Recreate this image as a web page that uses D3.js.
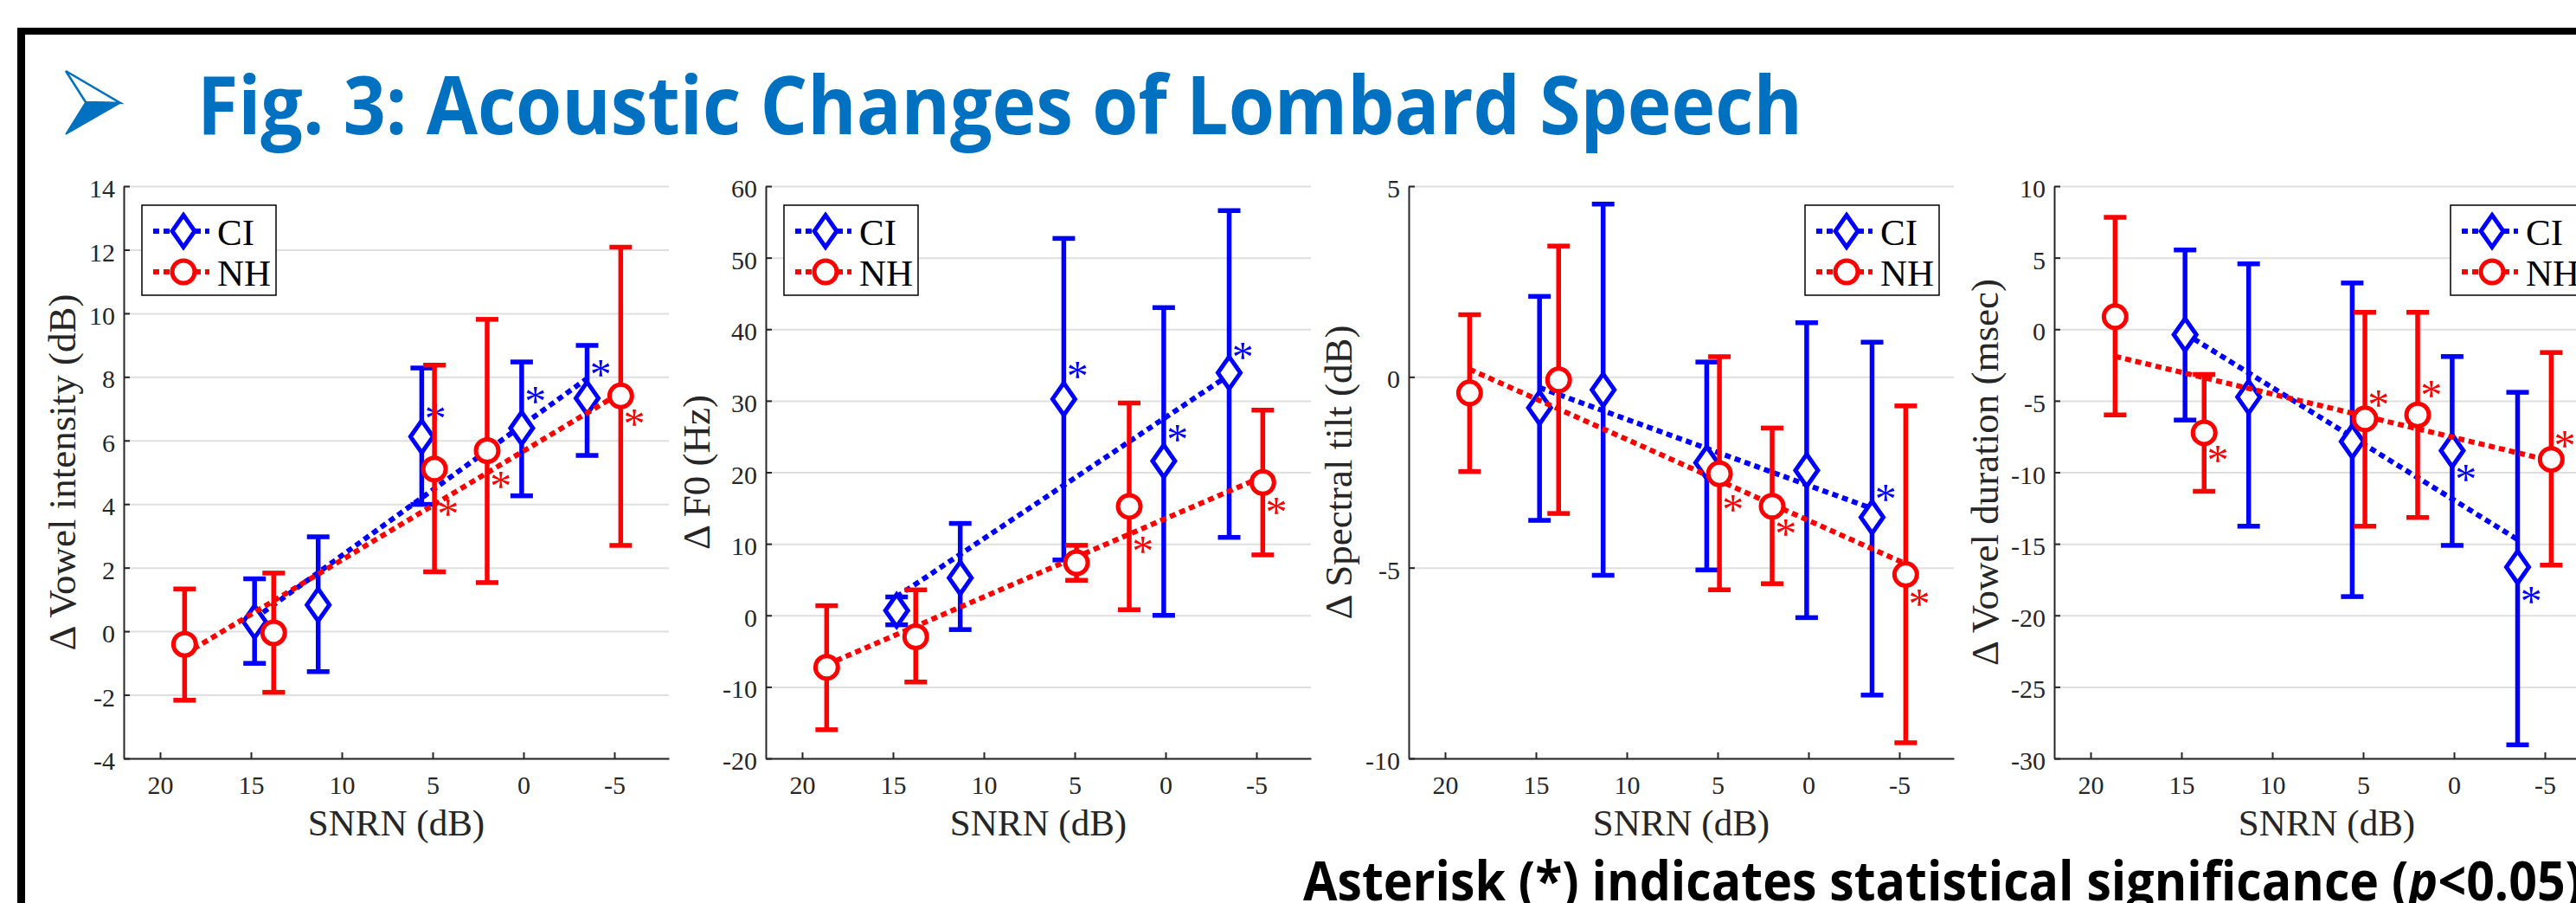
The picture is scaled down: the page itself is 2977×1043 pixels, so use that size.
<!DOCTYPE html>
<html>
<head>
<meta charset="utf-8">
<script src="https://cdn.jsdelivr.net/npm/d3@7/dist/d3.min.js"></script>
<style>
  body { margin: 0; background: #fff; }
  svg { display: block; }
</style>
</head>
<body>
<div id="chart"></div>
<script>

// SNRN (dB) where each group was measured
var snrCI = [14.8, 11.3, 5.6, 0.1, -3.5];
var snrNH = [18.65, 13.75, 4.9, 2.0, -5.35];
var snrTicks = [20, 15, 10, 5, 0, -5];
var groupNames = ["CI", "NH"];

// Vowel intensity (dB)
var intTicks = [-4, -2, 0, 2, 4, 6, 8, 10, 12, 14];
var intCI   = [0.30, 0.83, 6.12, 6.39, 7.33];
var intCIUp = [1.65, 2.97, 8.28, 8.47, 8.99];
var intCILo = [-1.01, -1.27, 3.99, 4.26, 5.53];
var intNH   = [-0.41, -0.05, 5.10, 5.68, 7.40];
var intNHUp = [1.33, 1.83, 8.37, 9.81, 12.08];
var intNHLo = [-2.17, -1.92, 1.87, 1.53, 2.70];
var intCIFit = [0.40, 7.95];
var intNHFit = [-0.72, 7.50];
var intCIStar = [null, null, 6.90, 7.45, 8.28];
var intNHStar = [null, null, 3.90, 4.78, 6.74];

// F0 (Hz)
var f0Ticks = [-20, -10, 0, 10, 20, 30, 40, 50, 60];
var f0CI   = [0.67, 5.23, 30.24, 21.57, 33.91];
var f0CIUp = [2.57, 12.85, 52.69, 43.02, 56.58];
var f0CILo = [-1.32, -1.99, 7.74, 0.0, 10.9];
var f0NH   = [-7.27, -3.0, 7.35, 15.23, 18.57];
var f0NHUp = [1.35, 3.56, 9.79, 29.68, 28.69];
var f0NHLo = [-15.99, -9.32, 4.9, 0.79, 8.45];
var f0CIFit = [2.6, 33.6];
var f0NHFit = [-6.9, 19.4];
var f0CIStar = [null, null, 34.4, 25.5, 37.0];
var f0NHStar = [null, null, null, 9.95, 15.35];

// Spectral tilt (dB)
var tiltTicks = [-10, -5, 0, 5];
var tiltCI   = [-0.81, -0.34, -2.25, -2.45, -3.68];
var tiltCIUp = [2.11, 4.53, 0.39, 1.42, 0.91];
var tiltCILo = [-3.76, -5.2, -5.06, -6.31, -8.34];
var tiltNH   = [-0.42, -0.08, -2.54, -3.39, -5.18];
var tiltNHUp = [1.63, 3.43, 0.53, -1.34, -0.76];
var tiltNHLo = [-2.48, -3.58, -5.58, -5.42, -9.59];
var tiltCIFit = [-0.28, -3.45];
var tiltNHFit = [0.2, -4.9];
var tiltCIStar = [null, null, null, null, -3.03];
var tiltNHStar = [null, null, -3.31, -3.93, -5.79];

// Vowel duration (msec)
var durTicks = [-30, -25, -20, -15, -10, -5, 0, 5, 10];
var durCI   = [-0.38, -4.74, -7.85, -8.49, -16.63];
var durCIUp = [5.54, 4.57, 3.23, -1.91, -4.41];
var durCILo = [-6.35, -13.77, -18.69, -15.11, -29.05];
var durNH   = [0.87, -7.24, -6.27, -5.99, -9.1];
var durNHUp = [7.82, -3.16, 1.18, 1.18, -1.63];
var durNHLo = [-5.99, -11.33, -13.77, -13.16, -16.49];
var durCIFit = [-0.3, -14.7];
var durNHFit = [-1.9, -9.2];
var durCIStar = [null, null, null, -10.02, -18.55];
var durNHStar = [null, -8.69, -4.83, -4.18, -7.66];

var panels = [
  {label: "\u0394 Vowel intensity (dB)", ticks: intTicks, left: 143, labelGap: 56, legend: "left",
   ci: [intCI, intCIUp, intCILo, intCIFit, intCIStar], nh: [intNH, intNHUp, intNHLo, intNHFit, intNHStar]},
  {label: "\u0394 F0 (Hz)", ticks: f0Ticks, left: 885, labelGap: 65, legend: "left",
   ci: [f0CI, f0CIUp, f0CILo, f0CIFit, f0CIStar], nh: [f0NH, f0NHUp, f0NHLo, f0NHFit, f0NHStar]},
  {label: "\u0394 Spectral tilt (dB)", ticks: tiltTicks, left: 1628, labelGap: 66, legend: "right",
   ci: [tiltCI, tiltCIUp, tiltCILo, tiltCIFit, tiltCIStar], nh: [tiltNH, tiltNHUp, tiltNHLo, tiltNHFit, tiltNHStar]},
  {label: "\u0394 Vowel duration (msec)", ticks: durTicks, left: 2374, labelGap: 65, legend: "right",
   ci: [durCI, durCIUp, durCILo, durCIFit, durCIStar], nh: [durNH, durNHUp, durNHLo, durNHFit, durNHStar]}
];

var W = 2977, H = 1043;
var plotTop = 215, ph = 661, pw = 630;
var serif = "'Liberation Serif', 'Times New Roman', serif";
var blue = "#0000ff", red = "#ff0000", ink = "#262626";

var svg = d3.select("#chart").append("svg")
  .attr("width", W)
  .attr("height", H);

svg.append("rect").attr("width", W).attr("height", H).attr("fill", "#fff");

// poster frame
svg.append("rect").attr("x", 20).attr("y", 32).attr("width", W - 20).attr("height", 8).attr("fill", "#000");
svg.append("rect").attr("x", 20).attr("y", 32).attr("width", 9).attr("height", H - 32).attr("fill", "#000");

// title bullet
svg.append("path")
  .attr("d", "M76,82L139,119L99,118Z")
  .attr("fill", "#fff").attr("stroke", "#0070c0").attr("stroke-width", 2.5).attr("stroke-linejoin", "miter");
svg.append("path")
  .attr("d", "M99,118L139,119L76,155Z")
  .attr("fill", "#0070c0").attr("stroke", "#0070c0").attr("stroke-width", 1.5);

svg.append("text")
  .attr("x", 228).attr("y", 155)
  .attr("font-family", "'Open Sans', sans-serif")
  .attr("font-weight", 700)
  .attr("font-size", 94)
  .attr("fill", "#0070c0")
  .attr("textLength", 1855)
  .attr("lengthAdjust", "spacingAndGlyphs")
  .text("Fig. 3: Acoustic Changes of Lombard Speech");

var note = svg.append("text")
  .attr("x", 1506).attr("y", 1040)
  .attr("font-family", "'Open Sans', sans-serif")
  .attr("font-weight", 700)
  .attr("font-size", 62)
  .attr("fill", "#000")
  .attr("textLength", 1478)
  .attr("lengthAdjust", "spacingAndGlyphs");
note.append("tspan").text("Asterisk (*) indicates statistical significance (");
note.append("tspan").attr("font-style", "italic").text("p");
note.append("tspan").text("<0.05)");

panels.forEach(drawPanel);

function drawPanel(p) {
  var x = d3.scaleLinear().domain([22, -8]).range([0, pw]);
  var y = d3.scaleLinear().domain([p.ticks[0], p.ticks[p.ticks.length - 1]]).range([ph, 0]);

  var g = svg.append("g").attr("transform", "translate(" + p.left + "," + plotTop + ")");

  // grid
  g.append("g")
    .call(d3.axisLeft(y).tickValues(p.ticks).tickSize(-pw).tickFormat(""))
    .call(function(s) {
      s.select(".domain").remove();
      s.selectAll("line").attr("stroke", "#dfdfdf").attr("stroke-width", 2);
    });

  // axes
  var yAxis = g.append("g")
    .call(d3.axisLeft(y).tickValues(p.ticks).tickSizeInner(-7).tickSizeOuter(0).tickPadding(10)
      .tickFormat(function(d) { return String(d); }));
  var xAxis = g.append("g")
    .attr("transform", "translate(0," + ph + ")")
    .call(d3.axisBottom(x).tickValues(snrTicks).tickSizeInner(-7).tickSizeOuter(0).tickPadding(20)
      .tickFormat(function(d) { return String(d); }));
  [yAxis, xAxis].forEach(function(a) {
    a.select(".domain").attr("stroke", ink).attr("stroke-width", 2);
    a.selectAll(".tick line").attr("stroke", ink).attr("stroke-width", 2);
    a.selectAll(".tick text")
      .attr("font-family", serif).attr("font-size", 30).attr("fill", ink);
  });
  yAxis.selectAll(".tick text").attr("dy", "0.42em");

  // axis labels
  g.append("text")
    .attr("x", pw / 2).attr("y", 750)
    .attr("text-anchor", "middle")
    .attr("font-family", serif).attr("font-size", 43).attr("fill", ink)
    .text("SNRN (dB)");
  g.append("text")
    .attr("transform", "translate(" + (-p.labelGap) + "," + (ph / 2) + ") rotate(-90)")
    .attr("text-anchor", "middle")
    .attr("font-family", serif).attr("font-size", 45).attr("fill", ink)
    .text(p.label);

  drawSeries(g, x, y, snrCI, p.ci, blue, "diamond");
  drawSeries(g, x, y, snrNH, p.nh, red, "circle");

  drawLegend(g, p.legend == "left" ? 21 : pw - 17 - 155);
}

function marker(sel, shape, color) {
  if (shape == "circle") {
    sel.append("circle").attr("r", 13);
  } else {
    sel.append("path").attr("d", "M0,-18.5L13,0L0,18.5L-13,0Z");
  }
  sel.selectAll("circle, path")
    .attr("fill", "#fff").attr("stroke", color).attr("stroke-width", 5);
}

function drawSeries(g, x, y, xs, s, color, shape) {
  var mean = s[0], up = s[1], lo = s[2], fit = s[3], star = s[4];

  g.append("line")
    .attr("x1", x(xs[0])).attr("y1", y(fit[0]))
    .attr("x2", x(xs[xs.length - 1])).attr("y2", y(fit[1]))
    .attr("stroke", color).attr("stroke-width", 6).attr("stroke-dasharray", "7,5");

  var pts = g.append("g").selectAll("g")
    .data(mean)
    .enter().append("g");

  pts.append("line")
    .attr("x1", function(d, i) { return x(xs[i]); })
    .attr("x2", function(d, i) { return x(xs[i]); })
    .attr("y1", function(d, i) { return y(up[i]); })
    .attr("y2", function(d, i) { return y(lo[i]); });
  pts.append("line")
    .attr("x1", function(d, i) { return x(xs[i]) - 13; })
    .attr("x2", function(d, i) { return x(xs[i]) + 13; })
    .attr("y1", function(d, i) { return y(up[i]); })
    .attr("y2", function(d, i) { return y(up[i]); });
  pts.append("line")
    .attr("x1", function(d, i) { return x(xs[i]) - 13; })
    .attr("x2", function(d, i) { return x(xs[i]) + 13; })
    .attr("y1", function(d, i) { return y(lo[i]); })
    .attr("y2", function(d, i) { return y(lo[i]); });
  pts.selectAll("line").attr("stroke", color).attr("stroke-width", 5.5);

  var m = pts.append("g")
    .attr("transform", function(d, i) { return "translate(" + x(xs[i]) + "," + y(d) + ")"; });
  marker(m, shape, color);

  g.append("g").selectAll("text")
    .data(star.map(function(v, i) { return {v: v, i: i}; }).filter(function(d) { return d.v != null; }))
    .enter().append("text")
    .attr("x", function(d) { return x(xs[d.i] - 0.75); })
    .attr("y", function(d) { return y(d.v) + 24; })
    .attr("text-anchor", "middle")
    .attr("font-family", serif).attr("font-size", 50).attr("fill", color)
    .text("*");
}

function drawLegend(g, lx) {
  var lg = g.append("g").attr("transform", "translate(" + lx + ",22)");
  lg.append("rect")
    .attr("width", 155).attr("height", 104)
    .attr("fill", "#fff").attr("stroke", "#000").attr("stroke-width", 1.5);
  var rows = [{name: groupNames[0], color: blue, shape: "diamond", cy: 30},
              {name: groupNames[1], color: red, shape: "circle", cy: 77}];
  rows.forEach(function(r) {
    lg.append("line")
      .attr("x1", 13).attr("x2", 78).attr("y1", r.cy).attr("y2", r.cy)
      .attr("stroke", r.color).attr("stroke-width", 6).attr("stroke-dasharray", "7,5");
    var m = lg.append("g").attr("transform", "translate(48," + r.cy + ")");
    marker(m, r.shape, r.color);
    lg.append("text")
      .attr("x", 87).attr("y", r.cy + 16)
      .attr("font-family", serif).attr("font-size", 43).attr("fill", "#000")
      .text(r.name);
  });
}

</script>
</body>
</html>
